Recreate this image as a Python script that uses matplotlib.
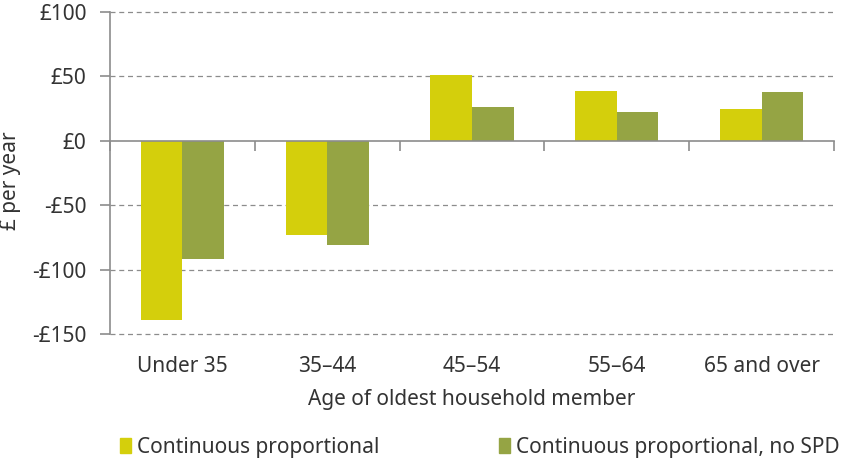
import matplotlib
matplotlib.use("Agg")
import matplotlib.pyplot as plt
import matplotlib.transforms as mtransforms
from matplotlib.patches import Patch
import numpy as np

categories = ["Under 35", "35\u201344", "45\u201354", "55\u201364", "65 and over"]
series_names = ["Continuous proportional", "Continuous proportional, no SPD"]
cont_prop = [-139, -73, 51, 39, 25]
cont_prop_no_spd = [-92, -81, 26, 22, 38]
yticks = [-150, -100, -50, 0, 50, 100]
ytick_labels = ["-\u00a3150", "-\u00a3100", "-\u00a350", "\u00a30", "\u00a350", "\u00a3100"]

plt.rcParams['font.family'] = ['Noto Sans', 'DejaVu Sans']
text_color = "#333333"
grid_color = "#8c8c8c"
c1 = "#D4CF0C"
c2 = "#95A444"
fs = 15

fig = plt.figure(figsize=(8.44, 4.62), dpi=100)
W, H = 844, 462
ax = fig.add_axes([110 / W, 1 - 334 / H, (834 - 110) / W, (334 - 12) / H])

x = np.arange(len(categories))
bw = 0.287
ax.bar(x - bw / 2, cont_prop, width=bw, color=c1, label=series_names[0], zorder=3)
ax.bar(x + bw / 2, cont_prop_no_spd, width=bw, color=c2, label=series_names[1], zorder=3)

ax.set_xlim(-0.5, len(categories) - 0.5)
ax.set_ylim(-150, 100)
ax.set_yticks(yticks)
ax.set_yticklabels(ytick_labels)
for y in yticks:
    if y != 0:
        ax.axhline(y, color=grid_color, lw=0.9, ls=(0, (4, 3)), zorder=1, clip_on=False)

for s in ['top', 'right']:
    ax.spines[s].set_visible(False)
ax.spines['left'].set_color(grid_color)
ax.spines['left'].set_linewidth(1.2)
ax.spines['bottom'].set_position(('data', 0))
ax.spines['bottom'].set_color(grid_color)
ax.spines['bottom'].set_linewidth(1.2)
ax.spines['bottom'].set_zorder(4)

ax.set_xticks(np.arange(len(categories) + 1) - 0.5)
ax.set_xticklabels([])
ax.tick_params(axis='x', direction='out', length=7, width=1.2, color=grid_color)
ax.tick_params(axis='y', direction='out', length=7, width=1.2, color=grid_color,
               labelsize=fs, labelcolor=text_color, pad=10)

trans = mtransforms.blended_transform_factory(ax.transData, ax.transAxes)
for i, c in enumerate(categories):
    ax.text(i, -0.1, c, transform=trans, ha='center', va='center',
            fontsize=fs, color=text_color)

ax.set_ylabel("\u00a3 per year", fontsize=fs, color=text_color)
ax.yaxis.set_label_coords(-(110 - 21) / (834 - 110), (334 - 181) / (334 - 12))
fig.text(472 / W, 1 - 399 / H, "Age of oldest household member",
         ha='center', va='center', fontsize=fs, color=text_color)

handles = [Patch(color=c1), Patch(color=c2)]
leg = fig.legend(handles, series_names, loc='center left', bbox_to_anchor=(101 / W, 1 - 447 / H),
                 ncol=2, frameon=False, fontsize=fs, handlelength=0.55, handleheight=0.7,
                 handletextpad=0.3, columnspacing=5.7, labelcolor=text_color)

fig.savefig("out.png", dpi=100)
